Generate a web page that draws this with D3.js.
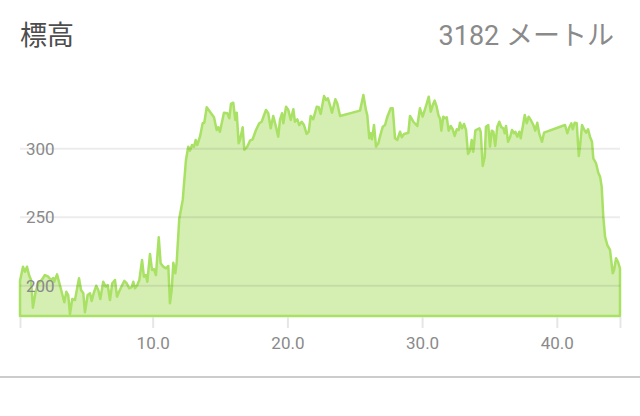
<!DOCTYPE html>
<html><head><meta charset="utf-8">
<script src="https://cdn.jsdelivr.net/npm/d3@7"></script>
<style>html,body{margin:0;padding:0;background:#fff;}svg{display:block;}</style>
</head><body><svg id="c" width="640" height="416"></svg>
<script>
const titleText = "標高";
const totalText = "3182 メートル";
const yTickValues = [200, 250, 300];
const xTickValues = [10, 20, 30, 40];
const distanceKm = [
0.15,0.37,0.52,0.67,0.82,0.97,1.11,1.31,1.51,1.76,2.00,2.25,2.45,2.62,2.69,2.90,3.24,3.44,3.59,3.73,3.86,4.03,4.23,4.53,4.68,4.85,4.97,5.17,5.35,5.47,5.62,5.81,5.96,6.11,6.33,6.51,6.66,6.83,7.00,7.20,7.35,7.50,7.74,7.89,8.07,8.26,8.44,8.56,8.69,8.86,9.01,9.21,9.35,9.50,9.60,9.80,9.95,10.10,10.24,10.45,10.59,10.79,10.99,11.16,11.28,11.41,11.53,11.68,11.78,11.97,12.23,12.47,12.64,12.77,12.92,13.07,13.19,13.31,13.51,13.71,13.83,14.01,14.55,14.75,14.87,14.99,15.29,15.54,15.69,15.81,15.98,16.13,16.24,16.38,16.48,16.68,16.80,17.02,17.22,17.42,17.67,17.91,18.09,18.21,18.41,18.58,18.76,18.95,19.15,19.32,19.45,19.60,19.70,19.90,20.07,20.25,20.44,20.56,20.74,20.88,21.06,21.23,21.43,21.58,21.73,21.92,22.18,22.32,22.47,22.72,22.87,23.01,23.16,23.31,23.56,23.70,23.91,25.39,25.64,25.84,25.93,26.08,26.18,26.28,26.43,26.58,26.75,26.87,27.08,27.25,27.42,27.67,27.82,27.99,28.16,28.36,28.49,28.66,28.86,28.98,29.10,29.35,29.64,29.84,30.04,30.29,30.49,30.64,30.79,30.93,31.08,31.23,31.33,31.43,31.57,31.72,31.83,31.97,32.12,32.27,32.42,32.57,32.72,32.81,32.96,33.11,33.26,33.41,33.56,33.68,33.80,33.95,34.10,34.25,34.35,34.50,34.65,34.74,34.91,35.04,35.17,35.29,35.43,35.58,35.73,35.88,36.03,36.13,36.23,36.38,36.53,36.67,36.82,36.92,37.07,37.22,37.32,37.47,37.62,37.77,37.91,38.06,38.26,38.40,38.55,38.70,38.90,39.05,40.61,40.78,40.93,41.08,41.18,41.33,41.48,41.63,41.72,41.87,42.02,42.17,42.32,42.46,42.61,42.71,42.91,43.08,43.21,43.33,43.45,43.58,43.75,43.95,44.15,44.25,44.40,44.54,44.69
];
const elevationM = [
203.5,214.0,210.3,214.0,207.9,204.3,184.1,195.7,202.1,204.3,207.9,206.7,204.3,205.7,203.0,208.4,195.7,188.0,195.7,193.3,179.5,190.4,189.7,205.5,197.0,194.6,180.7,193.3,194.6,189.0,194.6,200.1,197.0,190.4,203.0,199.4,200.6,189.7,201.9,204.3,192.1,195.7,200.6,203.6,201.9,198.2,199.0,203.0,198.2,200.6,204.3,218.9,206.7,207.9,203.0,223.3,211.6,212.1,207.9,235.5,216.5,214.0,212.8,214.5,187.3,197.0,216.9,209.2,216.9,248.8,262.7,291.9,301.6,298.7,302.8,301.6,306.5,302.8,308.9,318.7,319.1,330.4,323.1,313.8,315.8,312.5,326.4,326.0,322.3,332.8,333.7,321.1,326.4,304.1,306.5,315.8,299.2,301.6,306.0,307.0,313.8,318.7,319.8,323.1,328.4,326.0,315.0,324.0,316.2,308.9,321.1,326.0,318.7,330.8,328.4,321.1,328.9,319.8,321.6,317.4,319.8,317.4,310.9,312.5,324.0,321.6,330.8,330.4,325.5,338.6,335.7,336.9,332.0,326.4,336.2,333.3,324.0,327.9,339.3,327.9,324.7,307.7,311.4,307.0,317.4,301.6,304.1,308.9,316.2,317.4,323.5,329.6,329.6,307.7,306.5,312.5,308.5,310.9,311.4,311.8,324.0,319.8,316.7,329.6,323.5,331.3,338.1,327.1,332.0,335.2,330.8,324.0,322.3,313.3,323.5,322.3,323.1,313.3,316.7,314.3,309.4,314.3,313.8,319.1,315.0,318.2,313.8,296.3,298.7,306.5,297.9,313.3,314.3,315.0,312.5,287.5,294.3,316.2,317.4,301.6,313.3,312.5,302.1,316.2,319.8,315.8,315.0,311.4,316.7,305.2,308.5,313.8,311.4,312.5,308.9,312.5,307.7,316.2,324.7,318.7,323.5,321.1,317.4,313.3,319.1,310.9,305.2,311.8,317.4,311.4,315.8,318.7,314.3,319.1,318.7,294.8,301.6,317.4,314.3,311.8,314.3,308.9,305.2,293.1,289.5,282.6,279.7,272.4,250.5,235.9,229.8,226.2,209.2,211.6,220.1,217.6,212.8
];

const data = distanceKm.map((d, i) => ({km: d, m: elevationM[i]}));
const svg = d3.select("#c");
const font = "Roboto, 'Noto Sans CJK JP', sans-serif";

const x = d3.scaleLinear().domain([0.15, 44.69]).range([20, 620]);
const y = d3.scaleLinear().domain([178, 350]).range([316, 80.36]);

// header
svg.append("text").attr("x", 20).attr("y", 45)
  .attr("font-family", font).attr("font-size", 27).attr("fill", "#4d4d4d").text(titleText);
svg.append("text").attr("x", 614).attr("y", 45).attr("text-anchor", "end")
  .attr("font-family", font).attr("font-size", 27).attr("fill", "#8a8a8a").text(totalText);

// area
const area = d3.area().x(d => x(d.km)).y0(y(178)).y1(d => y(d.m)).curve(d3.curveLinear);
svg.append("path").datum(data).attr("d", area + "")
  .attr("d", area(data) + "Z")
  .attr("fill", "#d5eeb2").attr("stroke", "#a9e165").attr("stroke-width", 2.5)
  .attr("stroke-linejoin", "round");

// gridlines
svg.append("g").selectAll("line").data(yTickValues).join("line")
  .attr("x1", 20).attr("x2", 620).attr("y1", d => y(d)).attr("y2", d => y(d))
  .attr("stroke", "rgba(0,0,0,0.075)").attr("stroke-width", 2);

svg.append("g").selectAll("text").data(yTickValues).join("text")
  .attr("x", 26).attr("y", d => y(d)).attr("dy", "0.36em")
  .attr("font-family", font).attr("font-size", 17).attr("fill", "#8a8a8a")
  .text(d => d);

// x axis
const xAxis = d3.axisBottom(x)
  .tickValues([x.domain()[0], ...xTickValues, x.domain()[1]])
  .tickSize(11).tickPadding(9)
  .tickFormat(d => xTickValues.includes(d) ? d3.format(".1f")(d) : "");
const gx = svg.append("g").attr("transform", "translate(0,317)").call(xAxis);
gx.select(".domain").remove();
gx.selectAll(".tick line").attr("stroke", "#e6e6e6").attr("stroke-width", 2);
gx.selectAll(".tick text").attr("font-family", font).attr("font-size", 17).attr("fill", "#8a8a8a");

// separator
svg.append("line").attr("x1", 0).attr("x2", 640).attr("y1", 377).attr("y2", 377)
  .attr("stroke", "#cccccc").attr("stroke-width", 2);
</script></body></html>
